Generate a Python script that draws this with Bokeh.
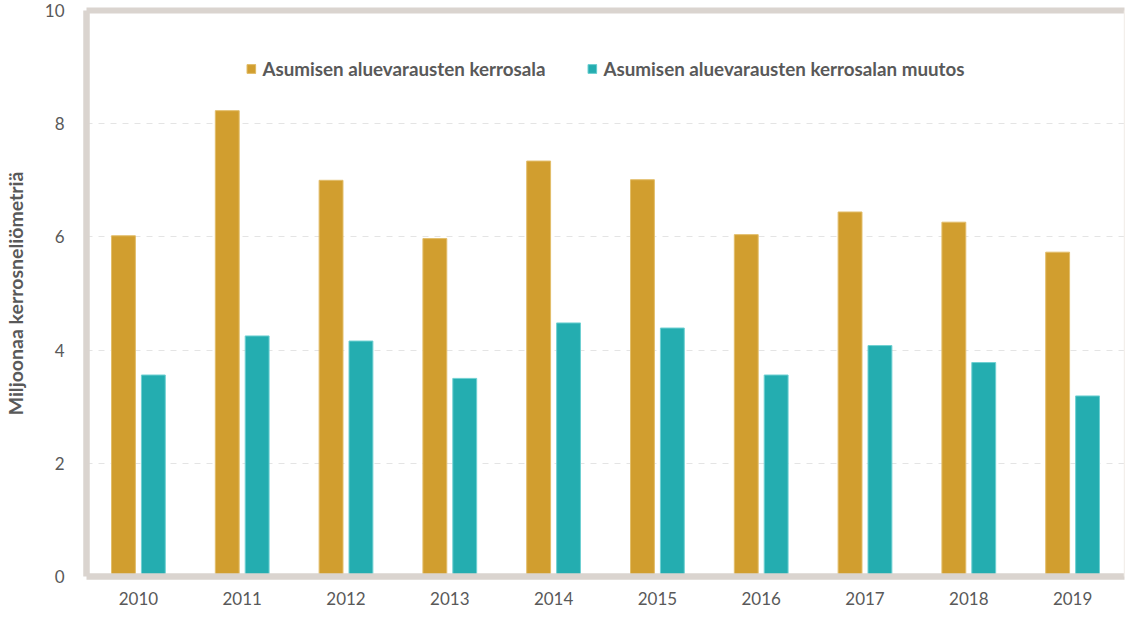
from bokeh.plotting import figure
from bokeh.models import (FactorRange, Legend, LegendItem, LinearAxis, FixedTicker,
                          ColumnDataSource)
from bokeh.transform import dodge
from bokeh.embed import file_html
from bokeh.resources import INLINE

years = ["2010", "2011", "2012", "2013", "2014", "2015", "2016", "2017", "2018", "2019"]
kerrosala = [6.02, 8.23, 7.00, 5.97, 7.34, 7.01, 6.04, 6.44, 6.26, 5.73]
muutos = [3.56, 4.25, 4.16, 3.50, 4.48, 4.39, 3.56, 4.08, 3.78, 3.19]
series_names = ["Asumisen aluevarausten kerrosala", "Asumisen aluevarausten kerrosalan muutos"]
y_ticks = [0, 2, 4, 6, 8, 10]
y_title = "Miljoonaa kerrosneliömetriä"

ORANGE = "#D19E2F"
TEAL = "#24ADB0"
FRAME = "#DAD4CF"
TEXT = "#595959"
FONT = "Lato"

src = ColumnDataSource(dict(year=years, a=kerrosala, b=muutos))

p = figure(x_range=FactorRange(*years, range_padding=0), y_range=(0, 10),
           width=1125, height=614, output_backend="svg", toolbar_location=None,
           min_border_left=84, min_border_top=10, min_border_right=1, min_border_bottom=38)
p.outline_line_color = None
p.background_fill_color = "white"

r1 = p.vbar(x=dodge("year", -0.144, range=p.x_range), top="a", width=0.23, source=src,
            fill_color=ORANGE, line_color="#E2BD6A", line_width=1)
r2 = p.vbar(x=dodge("year", 0.144, range=p.x_range), top="b", width=0.23, source=src,
            fill_color=TEAL, line_color="#6FD0D2", line_width=1)

# axes
p.yaxis.ticker = FixedTicker(ticks=y_ticks)
p.yaxis.axis_line_color = FRAME
p.yaxis.axis_line_width = 6.5
p.yaxis.major_tick_line_color = None
p.yaxis.minor_tick_line_color = None
p.yaxis.major_tick_out = 0
p.yaxis.major_label_standoff = 22
p.yaxis.major_label_text_font = FONT
p.yaxis.major_label_text_font_size = "17px"
p.yaxis.major_label_text_color = TEXT
p.yaxis.axis_label = y_title
p.yaxis.axis_label_text_font = FONT
p.yaxis.axis_label_text_font_style = "bold"
p.yaxis.axis_label_text_font_size = "19.5px"
p.yaxis.axis_label_text_color = TEXT
p.yaxis.axis_label_standoff = 15

p.xaxis.axis_line_color = FRAME
p.xaxis.axis_line_width = 6.5
p.xaxis.major_tick_line_color = None
p.xaxis.major_tick_out = 0
p.xaxis.major_label_standoff = 15
p.xaxis.major_label_text_font = FONT
p.xaxis.major_label_text_font_size = "17px"
p.xaxis.major_label_text_color = TEXT

top_axis = LinearAxis(ticker=FixedTicker(ticks=[]), axis_line_color=FRAME, axis_line_width=6,
                      major_tick_line_color=None, minor_tick_line_color=None,
                      major_label_text_font_size="0px", major_tick_out=0, minor_tick_out=0)
p.add_layout(top_axis, "above")
right_axis = LinearAxis(ticker=FixedTicker(ticks=[]), axis_line_color="#F3EFEB", axis_line_width=1.5,
                        major_tick_line_color=None, minor_tick_line_color=None,
                        major_label_text_font_size="0px", major_tick_out=0, minor_tick_out=0)
p.add_layout(right_axis, "right")

p.xgrid.grid_line_color = None
p.ygrid.ticker = FixedTicker(ticks=[2, 4, 6, 8])
p.ygrid.grid_line_color = "#E4E4E4"
p.ygrid.grid_line_dash = "6 6"
p.ygrid.grid_line_width = 1

legend = Legend(items=[LegendItem(label=series_names[0], renderers=[r1]),
                       LegendItem(label=series_names[1], renderers=[r2])],
                location="top_center", orientation="horizontal",
                glyph_width=11, glyph_height=11, label_standoff=6, spacing=41,
                padding=0, margin=47, label_height=20,
                label_text_font=FONT, label_text_font_style="bold",
                label_text_font_size="18.8px", label_text_color=TEXT,
                border_line_color=None, background_fill_alpha=0)
p.add_layout(legend, "center")

open("out.html", "w").write(file_html(p, INLINE))
